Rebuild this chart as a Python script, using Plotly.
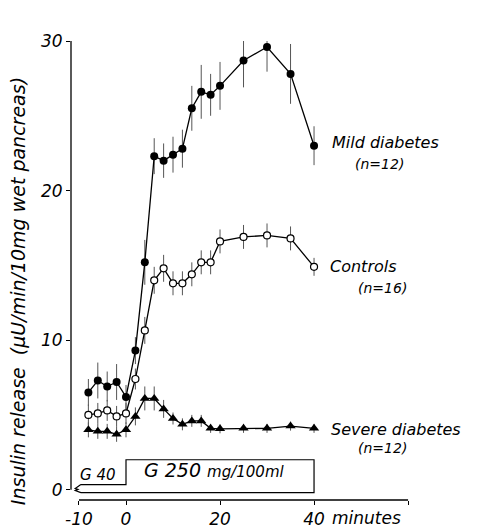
import plotly.graph_objects as go

# ---- data ----
times = [-8, -6, -4, -2, 0, 2, 4, 6, 8, 10, 12, 14, 16, 18, 20, 25, 30, 35, 40]

mild = [6.5, 7.3, 6.9, 7.2, 6.2, 9.3, 15.2, 22.3, 22.0, 22.4, 22.8, 25.5, 26.6, 26.4, 27.0, 28.7, 29.6, 27.8, 23.0]
mild_err = [0.9, 1.2, 1.0, 1.2, 0.8, 0.9, 1.5, 1.2, 1.15, 1.2, 1.27, 1.5, 1.8, 1.4, 1.6, 1.8, 1.65, 2.0, 1.3]

ctrl = [5.0, 5.1, 5.3, 4.9, 5.1, 7.4, 10.65, 14.0, 14.8, 13.8, 13.8, 14.4, 15.2, 15.2, 16.6, 16.9, 17.0, 16.8, 14.9]
ctrl_err = [0.7, 0.7, 0.7, 0.7, 0.7, 0.7, 0.9, 0.9, 0.9, 0.8, 0.8, 0.8, 0.8, 0.8, 0.8, 0.8, 0.8, 0.8, 0.6]

severe = [4.0, 3.9, 3.9, 3.7, 4.0, 4.9, 6.1, 6.1, 5.4, 4.76, 4.37, 4.6, 4.6, 4.1, 4.07, 4.1, 4.1, 4.25, 4.1]
severe_err = [0.5, 0.5, 0.5, 0.5, 0.5, 0.6, 0.8, 0.8, 0.6, 0.4, 0.4, 0.4, 0.4, 0.3, 0.3, 0.3, 0.3, 0.3, 0.3]

x_tickvals = [-10, 0, 20, 40, 60]
x_ticktext = ["-10", "0", "20", "40", ""]
y_tickvals = [0, 10, 20, 30]
y_ticktext = ["0", "10", "20", "30"]

series_labels = ["Mild diabetes", "Controls", "Severe diabetes"]
series_n = ["(n=12)", "(n=16)", "(n=12)"]

FONT = "DejaVu Sans"
LINE_W = 1.3

fig = go.Figure()

err_style = dict(type="data", thickness=1, width=0, color="#555")

fig.add_trace(go.Scatter(
    x=times, y=mild, mode="lines+markers",
    line=dict(color="black", width=LINE_W),
    marker=dict(symbol="circle", size=8, color="black"),
    error_y=dict(array=mild_err, **err_style), showlegend=False))

fig.add_trace(go.Scatter(
    x=times, y=ctrl, mode="lines+markers",
    line=dict(color="black", width=LINE_W),
    marker=dict(symbol="circle", size=7, color="white", line=dict(color="black", width=1.2)),
    error_y=dict(array=ctrl_err, **err_style), showlegend=False))

fig.add_trace(go.Scatter(
    x=times, y=severe, mode="lines+markers",
    line=dict(color="black", width=LINE_W),
    marker=dict(symbol="triangle-up", size=9, color="black"),
    error_y=dict(array=severe_err, **err_style), showlegend=False))

shapes = [
    # detached axis lines
    dict(type="line", xref="paper", yref="y", x0=0, x1=0, y0=0, y1=30,
         line=dict(color="black", width=1.3)),
    dict(type="line", xref="x", yref="paper", x0=-10, x1=60, y0=0, y1=0,
         line=dict(color="black", width=1.3)),
    # glucose stimulus diagram
    dict(type="path", xref="x", yref="y",
         path="M -9.6,0.34 L 0,0.34 L 0,2.0 L 40,2.0 L 40,-0.2 L -9.6,-0.2 "
              "M -9.6,0.34 L -10.8,0.08 L -10.2,0.02 L -10.8,-0.06 L -9.6,-0.2",
         line=dict(color="black", width=1.2)),
]

annotations = [
    dict(text="Insulin release  (µU/min/10mg wet pancreas)", xref="paper", yref="paper",
         x=0, y=0.455, xshift=-53, textangle=-90, showarrow=False,
         xanchor="center", yanchor="middle",
         font=dict(family=FONT, size=19, style="italic", color="black")),
    dict(text="minutes", xref="x", yref="paper", x=43.3, y=0, yshift=-18,
         xanchor="left", yanchor="middle", showarrow=False,
         font=dict(family=FONT, size=17, style="italic", color="black")),
    dict(text="G 40", xref="x", yref="y", x=-6, y=1.0, showarrow=False,
         xanchor="center", yanchor="middle",
         font=dict(family=FONT, size=15, style="italic", color="black")),
    dict(text="G 250 <span style='font-size:15px'>mg/100ml</span>", xref="x", yref="y",
         x=3.3, y=1.3, showarrow=False, xanchor="left", yanchor="middle",
         font=dict(family=FONT, size=19, style="italic", color="black")),
]

label_pos = [(43.4, 23.2, 54.0, 21.8), (43.0, 14.9, 54.5, 13.5), (43.2, 4.0, 54.5, 2.8)]
for name, n, (lx, ly, nx, ny) in zip(series_labels, series_n, label_pos):
    annotations.append(dict(text=name, xref="x", yref="y", x=lx, y=ly, showarrow=False,
                            xanchor="left", yanchor="middle",
                            font=dict(family=FONT, size=16, style="italic", color="black")))
    annotations.append(dict(text=n, xref="x", yref="y", x=nx, y=ny, showarrow=False,
                            xanchor="center", yanchor="middle",
                            font=dict(family=FONT, size=14, style="italic", color="black")))

fig.update_layout(
    width=495, height=529,
    margin=dict(l=71, r=86, t=41, b=29, autoexpand=False),
    paper_bgcolor="white", plot_bgcolor="white",
    shapes=shapes, annotations=annotations,
    xaxis=dict(range=[-11.7, 60.2], showline=False, showgrid=False, zeroline=False,
               automargin=False,
               tickmode="array", tickvals=x_tickvals, ticktext=x_ticktext,
               ticks="outside", ticklen=4, tickcolor="black", tickwidth=1.2,
               tickfont=dict(family=FONT, size=17, style="italic", color="black")),
    yaxis=dict(range=[-0.69, 30], showline=False, showgrid=False, zeroline=False,
               automargin=False,
               tickmode="array", tickvals=y_tickvals, ticktext=y_ticktext,
               ticks="outside", ticklen=4, tickcolor="black", tickwidth=1.2,
               tickfont=dict(family=FONT, size=17, style="italic", color="black")),
)

fig.write_html("out.html")
